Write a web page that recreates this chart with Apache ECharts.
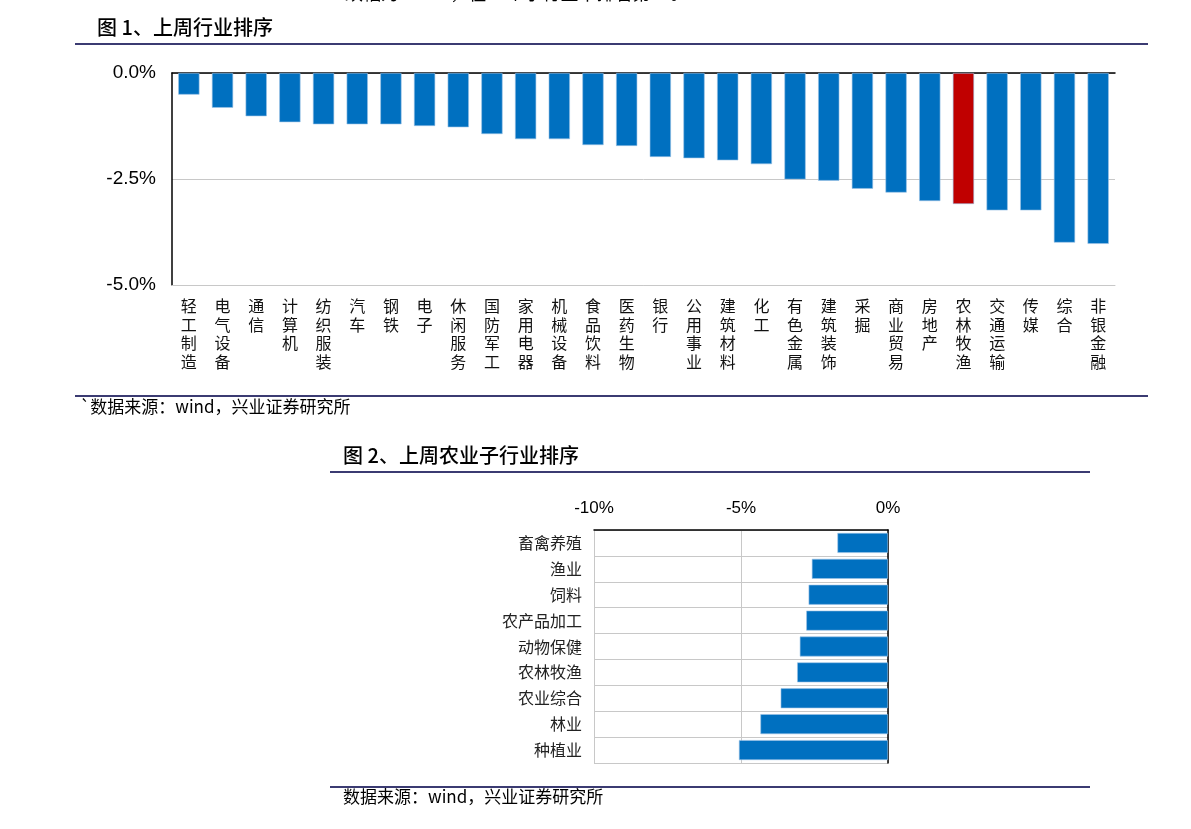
<!DOCTYPE html>
<html>
<head>
<meta charset="utf-8">
<script src="https://cdn.jsdelivr.net/npm/echarts@6/dist/echarts.min.js"></script>
<style>
html,body{margin:0;padding:0;background:#fff;}
#c{width:1191px;height:829px;}
</style>
</head>
<body>
<div id="c"></div>
<script>
// ---- Chart 1 data: 上周行业排序 ----
const industries = ['轻工制造','电气设备','通信','计算机','纺织服装','汽车','钢铁','电子','休闲服务','国防军工','家用电器','机械设备','食品饮料','医药生物','银行','公用事业','建筑材料','化工','有色金属','建筑装饰','采掘','商业贸易','房地产','农林牧渔','交通运输','传媒','综合','非银金融'];
const industryChange = [-0.51,-0.82,-1.02,-1.16,-1.21,-1.21,-1.21,-1.25,-1.28,-1.44,-1.56,-1.56,-1.70,-1.72,-1.98,-2.01,-2.06,-2.15,-2.51,-2.54,-2.73,-2.82,-3.02,-3.09,-3.24,-3.24,-4.00,-4.03];
const highlightIndustry = '农林牧渔';
const yTicks1 = [-5.0, -2.5, 0.0];

// ---- Chart 2 data: 上周农业子行业排序 ----
const subIndustries = ['畜禽养殖','渔业','饲料','农产品加工','动物保健','农林牧渔','农业综合','林业','种植业'];
const subChange = [-1.72,-2.59,-2.70,-2.78,-3.00,-3.09,-3.65,-4.34,-5.07];
const xTicks2 = [-10, -5, 0];

const CJK = '"Noto Sans CJK SC", sans-serif';
const LAT = '"Liberation Sans", Arial, sans-serif';
const NAVY = '#3b3b72';
const GRID = '#c8c8c8';

const chart = echarts.init(document.getElementById('c'));
chart.setOption({
  animation: false,
  backgroundColor: '#fff',
  grid: [
    {left: 172, top: 73, width: 943, height: 212, containLabel: false},
    {left: 594, top: 530, width: 294, height: 233, containLabel: false}
  ],
  xAxis: [
    {
      gridIndex: 0, type: 'category', data: industries, position: 'bottom',
      axisLine: {show: true, onZero: false, lineStyle: {color: GRID, width: 1}},
      axisTick: {show: false},
      axisLabel: {
        interval: 0, margin: 12, fontFamily: CJK, fontSize: 16, lineHeight: 18.5, color: '#111',
        verticalAlign: 'top',
        formatter: v => v.split('').join('\n')
      }
    },
    {
      gridIndex: 0, type: 'category', data: industries, position: 'top',
      axisLine: {show: true, onZero: false, lineStyle: {color: '#000', width: 1.5}},
      axisTick: {show: false}, axisLabel: {show: false}
    },
    {
      gridIndex: 1, type: 'value', position: 'top', min: xTicks2[0], max: xTicks2[xTicks2.length-1], interval: 5,
      axisLine: {show: true, lineStyle: {color: '#000', width: 1.5}},
      axisTick: {show: false},
      splitLine: {show: true, lineStyle: {color: GRID, width: 1}},
      axisLabel: {margin: 13, fontFamily: LAT, fontSize: 17, color: '#000', formatter: v => v + '%'}
    }
  ],
  yAxis: [
    {
      gridIndex: 0, type: 'value', min: yTicks1[0], max: yTicks1[yTicks1.length-1], interval: 2.5,
      axisLine: {show: true, onZero: false, lineStyle: {color: '#000', width: 1.5}},
      axisTick: {show: false},
      splitLine: {show: true, lineStyle: {color: GRID, width: 1}},
      axisLabel: {margin: 16, fontFamily: LAT, fontSize: 19, color: '#000', formatter: v => v.toFixed(1) + '%'}
    },
    {
      gridIndex: 1, type: 'category', data: subIndustries, inverse: true, position: 'left',
      axisLine: {show: true, onZero: false, lineStyle: {color: GRID, width: 1}},
      axisTick: {show: false},
      splitLine: {show: true, lineStyle: {color: GRID, width: 1}},
      axisLabel: {interval: 0, margin: 12, fontFamily: CJK, fontSize: 16, color: '#222'}
    },
    {
      gridIndex: 1, type: 'category', data: subIndustries, inverse: true, position: 'right',
      axisLine: {show: true, onZero: false, lineStyle: {color: '#000', width: 1.5}},
      axisTick: {show: false}, axisLabel: {show: false}
    }
  ],
  series: [
    {
      type: 'bar', xAxisIndex: 0, yAxisIndex: 0, barWidth: '63%',
      data: industryChange.map((v, i) => ({
        value: v,
        itemStyle: {color: industries[i] === highlightIndustry ? '#C00000' : '#0070C0'}
      })),
      itemStyle: {borderColor: '#9cc3e5', borderWidth: 0.6}
    },
    {
      type: 'bar', xAxisIndex: 2, yAxisIndex: 1, barWidth: '77%',
      data: subChange,
      itemStyle: {color: '#0070C0', borderColor: '#9cc3e5', borderWidth: 0.6}
    }
  ],
  graphic: [
    {type: 'text', left: 345, top: -16, style: {text: '跌幅为3.09%，在28个子行业中排名第24。', font: '18px ' + CJK, fill: '#000'}},
    {type: 'text', left: 97, top: 17, style: {text: '图 1、上周行业排序', font: '500 20px ' + CJK, fill: '#000'}},
    {type: 'line', shape: {x1: 75, y1: 44, x2: 1148, y2: 44}, style: {stroke: NAVY, lineWidth: 2}},
    {type: 'line', shape: {x1: 75, y1: 396, x2: 1148, y2: 396}, style: {stroke: NAVY, lineWidth: 2}},
    {type: 'text', left: 80, top: 398, style: {text: '`数据来源：wind，兴业证券研究所', font: '17px ' + CJK, fill: '#000'}},
    {type: 'text', left: 343, top: 445, style: {text: '图 2、上周农业子行业排序', font: '500 20px ' + CJK, fill: '#000'}},
    {type: 'line', shape: {x1: 330, y1: 472, x2: 1090, y2: 472}, style: {stroke: NAVY, lineWidth: 2}},
    {type: 'line', shape: {x1: 330, y1: 787, x2: 1090, y2: 787}, style: {stroke: NAVY, lineWidth: 2}},
    {type: 'text', left: 343, top: 788, style: {text: '数据来源：wind，兴业证券研究所', font: '17px ' + CJK, fill: '#000'}}
  ]
});
</script>
</body>
</html>
